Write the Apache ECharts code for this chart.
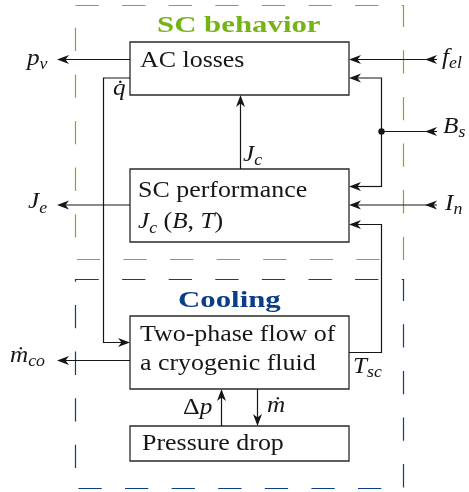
<!DOCTYPE html>
<html><head><meta charset="utf-8">
<script src="https://cdn.jsdelivr.net/npm/echarts@6/dist/echarts.min.js"></script>
<style>html,body{margin:0;padding:0;background:#fff}#c{width:469px;height:492px}</style>
</head><body><div id="c"></div>
<script>
// ---- Diagram data (diagram units on hidden value axes, y grows downward) ----
const groupNames   = ['SC behavior', 'Cooling'];
const groupBounds  = [[75.5, 5.5, 403.5, 259.5], [75.5, 279.5, 403.5, 488.5]];

const blockNames   = ['AC losses', 'SC performance', 'Two-phase flow', 'Pressure drop'];
const blockBounds  = [[130, 42, 349, 95], [130, 169, 349, 242], [130, 316, 349, 389], [130, 426, 349, 461]];

// connector paths; the last point carries the arrow head
const wirePaths = [
  [[130, 59.5], [57, 59.5]],                                   // p_v
  [[437, 59.5], [349, 59.5]],                                  // f_el
  [[349, 352.5], [381.5, 352.5], [381.5, 224.5], [349, 224.5]],// T_sc feedback
  [[381.5, 187], [381.5, 78], [349, 78]],                      // B_s -> AC losses
  [[381.5, 186.5], [349, 186.5]],                              // B_s -> SC performance
  [[437, 131.5], [381.5, 131.5]],                              // B_s feed (no head)
  [[437, 205], [349, 205]],                                    // I_n
  [[130, 205], [57, 205]],                                     // J_e
  [[240.5, 169], [240.5, 95]],                                 // J_c
  [[130, 78], [103.5, 78], [103.5, 342.5], [130, 342.5]],      // q dot
  [[130, 360.5], [57, 360.5]],                                 // m_co
  [[221.5, 426], [221.5, 389]],                                // delta p
  [[257.5, 389], [257.5, 426]]                                 // m dot
];
const wireHasHead = [1, 1, 1, 1, 1, 0, 1, 1, 1, 1, 1, 1, 1];
// extra arrow heads at the outer inputs: [x, y, dirX, dirY]
const inputHeads = [[425, 59.5, -1, 0], [425, 131.5, -1, 0], [425, 205, -1, 0]];
const junctionDots = [[381.5, 131.5]];

// text labels: markup {style|text}; anchor = [left x, baseline y]
const labelTexts = [
  '{m|p}{s|v}', '{m|f}{s|el}', '{m|B}{s|s}', '{m|J}{s|c}', '{m|q̇}',
  '{m|J}{s|e}', '{m|I}{s|n}', '{m|ṁ}{s|co}', '{m|T}{s|sc}', '{r|Δ}{m|p}', '{m|ṁ}',
  '{r|AC losses}', '{r|SC performance}', '{m|J}{s|c}{r| (}{m|B}{r|, }{m|T}{r|)}',
  '{r|Two-phase flow of}', '{r|a cryogenic fluid}', '{r|Pressure drop}',
  '{g|SC behavior}', '{c|Cooling}'
];
const labelAnchors = [
  [27, 66.5], [442, 65.5], [443, 134.5], [243, 162.5], [113, 97],
  [28, 210], [445, 211.5], [10, 363.5], [353, 374.5], [183, 415.5], [267, 413.5],
  [140, 69.3], [138, 199], [138, 230],
  [140, 342.7], [140, 371.7], [142, 451.7],
  [157, 34], [178, 309]
];

// ---- styles ----
const FONT = "'Liberation Serif'";
const INK = '#161616';
const groupColors = ['#76b416', '#0c3d88'];
const segStyles = {
  r: {size: 24, style: 'normal', weight: 'normal', sx: 1.08, dy: 0, color: INK},
  m: {size: 24, style: 'italic', weight: 'normal', sx: 1.05, dy: 0, color: INK},
  s: {size: 17, style: 'italic', weight: 'normal', sx: 1.05, dy: 4, color: INK},
  g: {size: 23, style: 'normal', weight: 'bold', sx: 1.34, dy: 0, color: groupColors[0]},
  c: {size: 23, style: 'normal', weight: 'bold', sx: 1.34, dy: 0, color: groupColors[1]}
};
const BASE_K = 0.345;

const mctx = document.createElement('canvas').getContext('2d');
function fontOf(st) { return st.style + ' ' + st.weight + ' ' + st.size + 'px ' + FONT; }
function parseMarkup(s) {
  const out = []; const re = /\{(\w)\|([^}]*)\}/g; let m;
  while ((m = re.exec(s))) out.push([m[1], m[2]]);
  return out;
}
function headPoly(tip, dx, dy) {
  const L = 12, N = 8.5, Wd = 4.5, nx = -dy, ny = dx;
  return [
    [tip[0], tip[1]],
    [tip[0] - L * dx + Wd * nx, tip[1] - L * dy + Wd * ny],
    [tip[0] - N * dx, tip[1] - N * dy],
    [tip[0] - L * dx - Wd * nx, tip[1] - L * dy - Wd * ny]
  ];
}

const chart = echarts.init(document.getElementById('c'), null, {renderer: 'canvas'});
chart.setOption({
  animation: false,
  backgroundColor: '#fff',
  grid: {left: 0, right: 0, top: 0, bottom: 0},
  xAxis: {type: 'value', min: 0, max: 469, show: false},
  yAxis: {type: 'value', min: 0, max: 492, inverse: true, show: false},
  series: [
    { // dashed group frames
      type: 'custom', data: groupBounds.map(b => [b[0], b[1]]),
      renderItem(params, api) {
        const b = groupBounds[params.dataIndex];
        const p0 = api.coord([b[0], b[1]]), p1 = api.coord([b[2], b[3]]);
        return {type: 'rect', shape: {x: p0[0], y: p0[1], width: p1[0] - p0[0], height: p1[1] - p0[1]},
          style: {fill: null, stroke: groupColors[params.dataIndex], lineWidth: 1.2, lineDash: [23.3, 23.3]}};
      }
    },
    { // blocks
      type: 'custom', data: blockBounds.map(b => [b[0], b[1]]),
      renderItem(params, api) {
        const b = blockBounds[params.dataIndex];
        const p0 = api.coord([b[0], b[1]]), p1 = api.coord([b[2], b[3]]);
        return {type: 'rect', shape: {x: p0[0], y: p0[1], width: p1[0] - p0[0], height: p1[1] - p0[1]},
          style: {fill: null, stroke: '#2a2a2a', lineWidth: 1.3}};
      }
    },
    { // wires with arrow heads
      type: 'custom', data: wirePaths.map(p => p[0]),
      renderItem(params, api) {
        const i = params.dataIndex;
        const pts = wirePaths[i].map(p => api.coord(p));
        const children = [];
        const n = pts.length;
        let linePts = pts.slice();
        if (wireHasHead[i]) {
          const a = pts[n - 2], t = pts[n - 1];
          const len = Math.hypot(t[0] - a[0], t[1] - a[1]);
          const dx = (t[0] - a[0]) / len, dy = (t[1] - a[1]) / len;
          linePts[n - 1] = [t[0] - 8 * dx, t[1] - 8 * dy];
          children.push({type: 'polygon', shape: {points: headPoly(t, dx, dy)}, style: {fill: INK}});
        }
        children.unshift({type: 'polyline', shape: {points: linePts}, style: {fill: null, stroke: INK, lineWidth: 1.2}});
        return {type: 'group', children};
      }
    },
    { // arrow heads on outer inputs
      type: 'custom', data: inputHeads.map(h => [h[0], h[1]]),
      renderItem(params, api) {
        const h = inputHeads[params.dataIndex];
        const t = api.coord([h[0], h[1]]);
        return {type: 'polygon', shape: {points: headPoly(t, h[2], h[3])}, style: {fill: INK}};
      }
    },
    { // junction dot
      type: 'custom', data: junctionDots,
      renderItem(params, api) {
        const c = api.coord(junctionDots[params.dataIndex]);
        return {type: 'circle', shape: {cx: c[0], cy: c[1], r: 3.2}, style: {fill: INK}};
      }
    },
    { // text labels
      type: 'custom', data: labelAnchors,
      renderItem(params, api) {
        const i = params.dataIndex;
        const a = api.coord(labelAnchors[i]);
        let x = a[0];
        const children = [];
        parseMarkup(labelTexts[i]).forEach(([k, t]) => {
          const st = segStyles[k];
          mctx.font = fontOf(st);
          const w = mctx.measureText(t).width * st.sx;
          children.push({type: 'text', x: x, y: a[1] + st.dy - BASE_K * st.size, scaleX: st.sx,
            style: {text: t, font: fontOf(st), fill: st.color, align: 'left', verticalAlign: 'middle'}});
          x += w;
        });
        return {type: 'group', children};
      }
    }
  ]
});
</script>
</body></html>
